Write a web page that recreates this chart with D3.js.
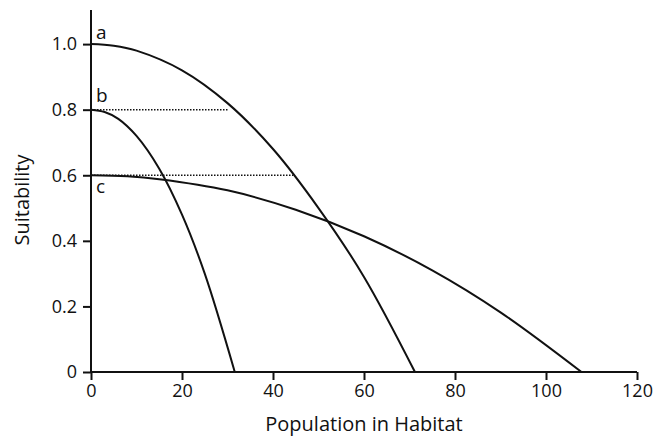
<!DOCTYPE html>
<html>
<head>
<meta charset="utf-8">
<title>Suitability</title>
<script src="https://d3js.org/d3.v7.min.js"></script>
<style>
  body { margin: 0; background: #fff; }
  text { font-family: "Open Sans", "Noto Sans", sans-serif; fill: #111; }
</style>
</head>
<body>
<script>
// curve points
var curveA = [[0,1.0],[5,0.995],[10,0.98],[20,0.92],[30,0.82],[40,0.68],[50,0.50],[60,0.29],[71.2,0]];
var curveB = [[0,0.8],[3,0.793],[6,0.772],[10,0.72],[15,0.62],[20,0.48],[25,0.30],[31.6,0]];
var curveC = [[0,0.6],[8,0.597],[15,0.588],[30,0.554],[45,0.495],[60,0.414],[75,0.31],[90,0.182],[107.8,0]];
var curveLabels = ["a", "b", "c"];
// dotted guides: level, x where curve a crosses it
var guides = [[0.8, 30.2], [0.6, 44.4]];
var xTicks = [0, 20, 40, 60, 80, 100, 120];
var yTicks = [0, 0.2, 0.4, 0.6, 0.8, 1.0];

var width = 663, height = 436;
var margin = {top: 10, right: 26, bottom: 64, left: 91};

var svg = d3.select("body").append("svg")
    .attr("width", width)
    .attr("height", height);

var x = d3.scaleLinear().domain([0, 120]).range([margin.left, width - margin.right]);
var y = d3.scaleLinear().domain([0, 1.104]).range([height - margin.bottom, margin.top]);

var line = d3.line()
    .x(function(d) { return x(d[0]); })
    .y(function(d) { return y(d[1]); })
    .curve(d3.curveCatmullRom.alpha(0.5));

// dotted guides
svg.selectAll(".guide")
    .data(guides)
    .enter().append("line")
    .attr("class", "guide")
    .attr("x1", x(0))
    .attr("x2", function(d) { return x(d[1]); })
    .attr("y1", function(d) { return y(d[0]); })
    .attr("y2", function(d) { return y(d[0]); })
    .attr("stroke", "#111")
    .attr("stroke-width", 1.5)
    .attr("stroke-dasharray", "1.5,1.5");

svg.selectAll(".curve")
    .data([curveA, curveB, curveC])
    .enter().append("path")
    .attr("class", "curve")
    .attr("d", line)
    .attr("fill", "none")
    .attr("stroke", "#111")
    .attr("stroke-width", 2);

// axes
var xAxis = svg.append("g")
    .attr("transform", "translate(0," + y(0) + ")")
    .call(d3.axisBottom(x).tickValues(xTicks).tickSize(8).tickPadding(4).tickSizeOuter(0));
var yAxis = svg.append("g")
    .attr("transform", "translate(" + x(0) + ",0)")
    .call(d3.axisLeft(y).tickValues(yTicks).tickSize(8).tickPadding(6).tickSizeOuter(0)
        .tickFormat(function(d) { return d === 0 ? "0" : d3.format(".1f")(d); }));

[xAxis, yAxis].forEach(function(g) {
    g.select(".domain").attr("stroke", "#111").attr("stroke-width", 2);
    g.selectAll(".tick line").attr("stroke", "#111").attr("stroke-width", 2);
    g.selectAll(".tick text").style("font-size", "18px").attr("fill", "#111");
});
xAxis.select(".domain").attr("d", "M" + x(0) + ",0H" + x(120));
yAxis.select(".domain").attr("d", "M0," + y(0) + "V" + margin.top);

// curve labels
var labelPos = [[1.0, -5], [0.8, -8], [0.6, 18]];
svg.selectAll(".lab")
    .data(curveLabels)
    .enter().append("text")
    .attr("class", "lab")
    .attr("x", x(0) + 5)
    .attr("y", function(d, i) { return y(labelPos[i][0]) + labelPos[i][1]; })
    .style("font-size", "19px")
    .text(function(d) { return d; });

svg.append("text")
    .attr("x", (x(0) + x(120)) / 2)
    .attr("y", 431)
    .attr("text-anchor", "middle")
    .style("font-size", "20px")
    .text("Population in Habitat");

svg.append("text")
    .attr("transform", "translate(29,200) rotate(-90)")
    .attr("text-anchor", "middle")
    .style("font-size", "20px")
    .text("Suitability");
</script>
</body>
</html>
